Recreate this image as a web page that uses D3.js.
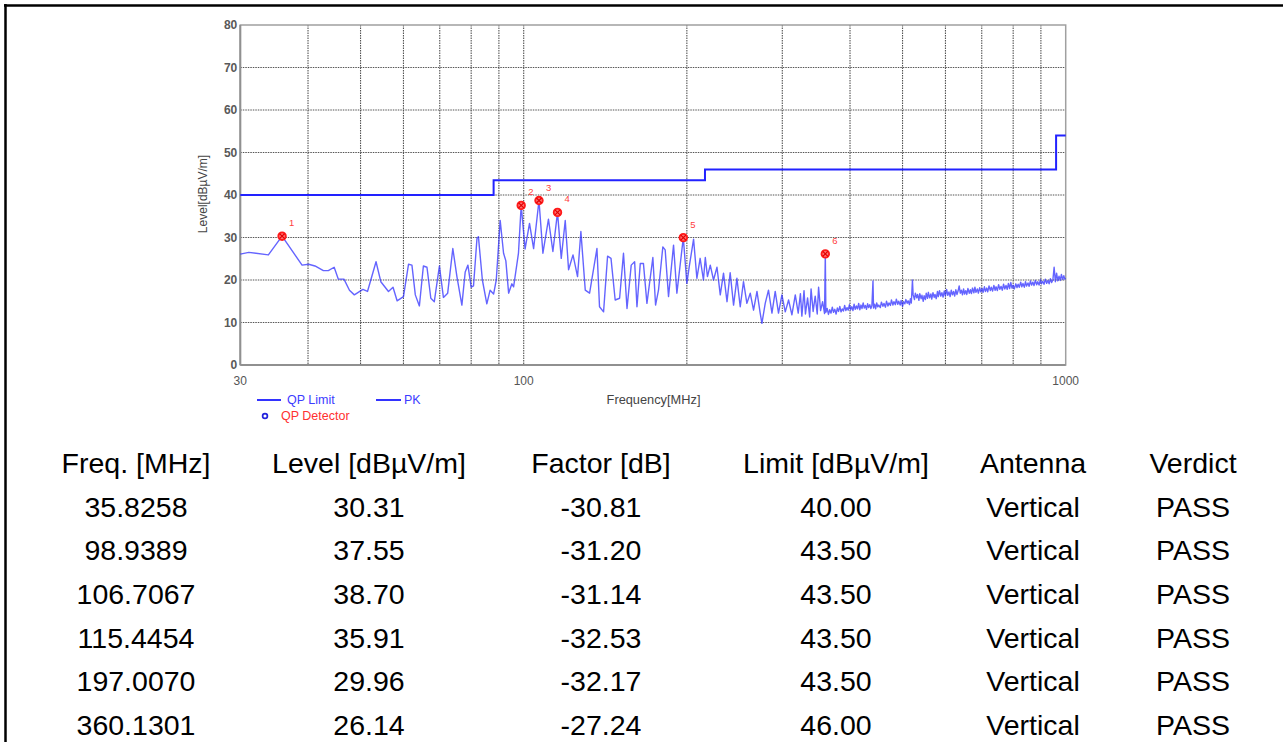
<!DOCTYPE html>
<html><head><meta charset="utf-8">
<script src="https://cdn.jsdelivr.net/npm/d3@7"></script>
<style>
html,body{margin:0;padding:0;background:#fff;}
svg{display:block;}
text{font-family:"Liberation Sans",Arial,sans-serif;}
</style></head>
<body>
<svg id="chart" width="1283" height="742"></svg>
<script>
// ---------- DATA ----------
const yTicks = [0, 10, 20, 30, 40, 50, 60, 70, 80];
const xGridTicks = [40, 50, 60, 70, 80, 90, 100, 200, 300, 400, 500, 600, 700, 800, 900];
const xTickLabels = [30, 100, 1000];

// QP limit (step line)
const limitFreq  = [30, 88, 88, 216, 216, 960, 960, 1000];
const limitLevel = [40, 40, 43.5, 43.5, 46, 46, 54, 54];

// PK trace [MHz, dBµV/m]
const pkTrace = [
 [30.0,26.1],[31.1,26.5],[33.8,25.9],[35.8258,30.31],[39.0,23.5],[40.1,23.7],[41.2,23.3],[42.7,22.2],[43.6,22.2],[44.7,23.0],
 [45.5,20.2],[46.6,20.2],[47.7,17.6],[48.7,16.5],[50.5,17.8],[51.5,17.3],[53.4,24.3],[54.5,19.6],[56.3,17.3],[57.4,18.3],
 [58.4,15.1],[60.0,16.1],[61.3,23.7],[62.2,23.5],[63.1,16.5],[64.2,13.9],[65.3,23.3],[66.3,23.0],[67.4,15.7],[68.4,14.9],
 [69.9,23.3],[71.1,15.9],[72.4,16.9],[74.0,27.4],[75.3,20.8],[76.9,14.1],[78.0,21.9],[78.9,23.5],[80.0,18.3],[80.8,18.6],
 [82.0,29.8],[82.5,30.2],[83.9,20.0],[85.5,14.4],[86.7,17.6],[88.0,16.7],[89.0,20.0],[90.5,34.0],[91.8,26.3],[92.7,24.5],
 [93.8,16.9],[95.1,19.1],[95.8,18.4],[97.8,26.3],[98.9389,37.55],[100.6,27.3],[102.5,33.3],[104.3,27.4],[106.7067,38.70],[108.5,26.3],
 [111.1,34.3],[113.2,26.7],[115.4454,35.91],[117.3,25.1],[119.3,34.0],[121.0,22.4],[123.3,25.9],[125.7,20.8],[127.5,31.4],[129.9,17.6],
 [132.3,16.9],[136.5,27.4],[138.0,13.7],[140.4,12.5],[142.8,25.6],[144.9,25.1],[147.5,15.3],[150.3,15.7],[152.8,26.3],[155.1,13.3],
 [157.9,23.5],[160.2,24.3],[161.8,13.7],[164.1,23.9],[166.3,23.9],[168.8,14.5],[173.1,25.3],[175.1,14.1],[177.3,17.6],[180.6,27.8],
 [182.4,27.1],[185.0,16.1],[189.0,28.2],[191.7,16.9],[197.0070,29.96],[200.0,19.2],[202.0,23.1],[205.8,29.6],[208.7,20.4],[211.6,25.1],
 [214.6,20.0],[216.3,25.3],[218.3,20.8],[220.9,23.5],[224.0,20.0],[227.3,23.0],[230.5,16.5],[233.7,21.6],[237.2,14.9],[240.4,21.7],
 [243.9,14.1],[247.4,20.4],[250.9,13.7],[254.4,19.6],[258.1,14.5],[261.8,16.9],[265.5,12.9],[269.4,17.3],[273.1,12.2],[275.1,9.8],
 [279.0,14.5],[282.9,17.6],[287.1,12.2],[291.1,17.3],[295.2,12.2],[299.5,16.5],[303.8,12.5],[308.1,15.3],[312.5,11.8],[317.0,16.5],
 [321,12.2],[324,16.8],[326,11.5],[329,17.5],[331,12.0],[334,15.8],[337,11.3],[339,17.9],[342,12.6],[345,16.2],
 [348,12.0],[350,18.3],[353,12.8],[356,14.9],[359,12.1],[360.1301,26.14],[361,12.4],[363,13.3],[365,11.9],[367,13.0],
 [369,12.2],[371,13.6],[373,12.4],[375,13.1],[377,12.0],[379,13.4],[381,12.6],[383,13.8],[385,12.5],[387,13.2],
 [389,12.7],[391,14.0],[393,12.8],[395,13.5],[397,12.9],[399,14.2],[401,13.0],[403,13.7],[405,12.8],[407,14.3],
 [409,13.1],[411,13.9],[413,13.2],[415,14.5],[417,13.0],[419,14.1],[421,13.3],[423,14.6],[425,13.4],[427,14.0],
 [429,13.1],[431,14.4],[433,13.5],[435,14.2],[437,13.3],[439,14.0],[441,19.8],[442,13.4],[444,14.3],[446,13.2],
 [448,14.6],[450,13.7],[452,14.1],[455,13.5],[457,14.8],[460,13.8],[462,14.5],[465,13.6],[467,15.0],[470,13.9],
 [472,14.6],[475,14.0],[477,15.3],[480,14.1],[482,14.9],[485,14.2],[487,15.5],[490,14.3],[492,15.0],[495,14.1],
 [497,15.2],[500,13.8],[502,14.9],[505,14.4],[507,15.4],[510,14.5],[512,15.1],[515,14.2],[517,15.6],[519,14.6],
 [521.5,20.0],[523,16.5],[526,15.4],[528,16.9],[531,15.8],[533,16.6],[536,15.2],[538,16.8],[541,15.6],[543,16.4],
 [546,15.0],[548,16.3],[551,15.4],[553,16.9],[556,15.7],[558,17.1],[561,15.8],[564,16.7],[566,15.5],[569,17.0],
 [572,15.9],[574,16.6],[577,15.6],[580,17.3],[582,16.1],[585,17.5],[588,16.2],[591,17.0],[594,16.0],[597,17.4],
 [600,16.3],[603,17.8],[606,16.4],[609,17.2],[612,16.1],[615,17.6],[618,16.5],[621,17.3],[624,16.2],[627,17.7],
 [630,16.6],[633,17.4],[636,18.6],[639,16.9],[642,17.6],[645,16.5],[648,17.9],[651,16.7],[654,17.5],[657,16.6],
 [660,18.0],[664,16.9],[667,17.7],[670,16.8],[673,18.1],[677,17.0],[680,18.3],[683,17.1],[687,17.9],[690,16.9],
 [694,18.2],[697,17.2],[701,18.0],[704,17.1],[708,18.4],[711,17.3],[715,18.1],[718,17.2],[722,18.6],[726,17.5],
 [729,18.3],[733,17.4],[737,18.7],[741,17.6],[744,18.4],[748,17.5],[752,18.9],[756,17.8],[760,18.5],[764,17.6],
 [768,19.0],[772,17.9],[776,18.7],[780,17.8],[784,19.2],[788,18.0],[792,19.4],[796,18.1],[800,18.8],[804,17.9],
 [809,19.1],[813,18.2],[817,19.0],[821,18.3],[826,19.5],[830,18.4],[834,19.2],[839,18.3],[843,19.6],[847,18.6],
 [852,19.3],[856,18.5],[861,19.8],[865,18.8],[870,19.5],[874,18.7],[879,19.9],[884,18.9],[888,19.6],[893,18.8],
 [898,20.1],[902,19.1],[907,19.7],[912,19.0],[917,20.2],[922,19.2],[927,19.9],[932,19.1],[937,20.3],[942,19.4],
 [947,20.0],[952,23.0],[957,19.6],[962,21.6],[967,19.8],[972,20.9],[977,19.9],[982,21.3],[987,20.1],[992,21.0],
 [996,20.2],[1000,20.4]
];

// Table / QP markers
const tableHeaders = ["Freq. [MHz]", "Level [dBµV/m]", "Factor [dB]", "Limit [dBµV/m]", "Antenna", "Verdict"];
const markFreq   = ["35.8258", "98.9389", "106.7067", "115.4454", "197.0070", "360.1301"];
const markLevel  = ["30.31", "37.55", "38.70", "35.91", "29.96", "26.14"];
const markFactor = ["-30.81", "-31.20", "-31.14", "-32.53", "-32.17", "-27.24"];
const markLimit  = ["40.00", "43.50", "43.50", "43.50", "43.50", "46.00"];
const markAnt    = ["Vertical", "Vertical", "Vertical", "Vertical", "Vertical", "Vertical"];
const markVerdict= ["PASS", "PASS", "PASS", "PASS", "PASS", "PASS"];

// ---------- DRAW ----------
const svg = d3.select("#chart");
const x = d3.scaleLog().domain([30, 1000]).range([240.3, 1065.7]);
const y = d3.scaleLinear().domain([0, 80]).range([365, 25]);

// page border
svg.append("line").attr("x1", 4).attr("x2", 1283).attr("y1", 5.5).attr("y2", 5.5).attr("stroke", "#000").attr("stroke-width", 2.5);
svg.append("line").attr("x1", 5.5).attr("x2", 5.5).attr("y1", 4).attr("y2", 742).attr("stroke", "#000").attr("stroke-width", 2.5);

const g = svg.append("g");
// grid
g.selectAll(".hg").data(yTicks.filter(d => d > 0 && d < 80)).enter().append("line")
  .attr("x1", x(30)).attr("x2", x(1000)).attr("y1", d => y(d)).attr("y2", d => y(d))
  .attr("stroke", "#555").attr("stroke-width", 1.1).attr("stroke-dasharray", "1.5,1");
g.selectAll(".vg").data(xGridTicks).enter().append("line")
  .attr("x1", d => x(d)).attr("x2", d => x(d)).attr("y1", y(80)).attr("y2", y(0))
  .attr("stroke", "#555").attr("stroke-width", 1.1).attr("stroke-dasharray", "1.5,1");
// frame
g.append("rect").attr("x", x(30)).attr("y", y(80)).attr("width", x(1000) - x(30)).attr("height", y(0) - y(80))
  .attr("fill", "none").attr("stroke", "#a0a0a0").attr("stroke-width", 1.5);
g.append("line").attr("x1", x(30)).attr("x2", x(30)).attr("y1", y(80)).attr("y2", y(0)).attr("stroke", "#909090").attr("stroke-width", 2);
g.append("line").attr("x1", x(30)).attr("x2", x(1000)).attr("y1", y(0)).attr("y2", y(0)).attr("stroke", "#909090").attr("stroke-width", 2);

// y tick labels
g.selectAll(".yt").data(yTicks).enter().append("text")
  .attr("x", x(30) - 3).attr("y", d => y(d) + 4.3).attr("text-anchor", "end")
  .attr("font-size", 12).attr("font-weight", "bold").attr("fill", "#595959").text(d => d);
// x tick labels
g.selectAll(".xt").data(xTickLabels).enter().append("text")
  .attr("x", d => x(d)).attr("y", 384.5).attr("text-anchor", "middle")
  .attr("font-size", 12).attr("fill", "#555").text(d => d);
// axis titles
g.append("text").attr("transform", "translate(207,194) rotate(-90)").attr("text-anchor", "middle")
  .attr("font-size", 12).attr("fill", "#444").text("Level[dBµV/m]");
g.append("text").attr("x", 653.5).attr("y", 404).attr("text-anchor", "middle")
  .attr("font-size", 12.8).attr("fill", "#444").text("Frequency[MHz]");

// limit line
const limitPts = limitFreq.map((f, i) => [f, limitLevel[i]]);
const line = d3.line().x(d => x(d[0])).y(d => y(d[1]));
g.append("path").attr("d", line(limitPts)).attr("fill", "none").attr("stroke", "#2222ff").attr("stroke-width", 2);

// PK trace
g.append("path").attr("d", line(pkTrace)).attr("fill", "none").attr("stroke", "#3030ff")
  .attr("stroke-opacity", 0.75).attr("stroke-width", 1.4).attr("stroke-linejoin", "round");

// QP markers
const marks = markFreq.map((f, i) => ({f: +f, l: +markLevel[i], n: i + 1}));
const mg = g.selectAll(".mk").data(marks).enter().append("g")
  .attr("transform", d => `translate(${x(d.f)},${y(d.l)})`);
mg.append("circle").attr("r", 3.8).attr("fill", "#ff7070").attr("stroke", "#ff1a1a").attr("stroke-width", 1.8);
mg.append("path").attr("d", "M-2.5,-2.5L2.5,2.5M-2.5,2.5L2.5,-2.5").attr("stroke", "#e00000").attr("stroke-width", 1.2);
mg.append("text").attr("x", 7).attr("y", -10).attr("font-size", 9.5).attr("fill", "#ff4040").text(d => d.n);

// legend
g.append("line").attr("x1", 257).attr("x2", 281).attr("y1", 400).attr("y2", 400).attr("stroke", "#3333ff").attr("stroke-width", 2);
g.append("text").attr("x", 287).attr("y", 404).attr("font-size", 12.5).attr("fill", "#3c3cff").text("QP Limit");
g.append("line").attr("x1", 376).attr("x2", 401).attr("y1", 400).attr("y2", 400).attr("stroke", "#3333ff").attr("stroke-width", 2);
g.append("text").attr("x", 404).attr("y", 404).attr("font-size", 12.5).attr("fill", "#3c3cff").text("PK");
g.append("circle").attr("cx", 265).attr("cy", 416).attr("r", 2.4).attr("fill", "none").attr("stroke", "#2222dd").attr("stroke-width", 1.7);
g.append("text").attr("x", 281).attr("y", 420).attr("font-size", 12.5).attr("fill", "#ff3030").text("QP Detector");

// table
const colX = [136, 369, 601, 836, 1033, 1193];
const columns = [markFreq, markLevel, markFactor, markLimit, markAnt, markVerdict];
const rowY = [473, 516.5, 560, 603.5, 647.5, 691, 734.5];
const tg = svg.append("g").attr("font-size", 28.5).attr("fill", "#000").attr("text-anchor", "middle");
tg.selectAll(".th").data(tableHeaders).enter().append("text")
  .attr("x", (d, i) => colX[i]).attr("y", rowY[0]).text(d => d);
columns.forEach((col, ci) => {
  tg.selectAll(".c" + ci).data(col).enter().append("text")
    .attr("x", colX[ci]).attr("y", (d, ri) => rowY[ri + 1]).text(d => d);
});
</script>
</body></html>
